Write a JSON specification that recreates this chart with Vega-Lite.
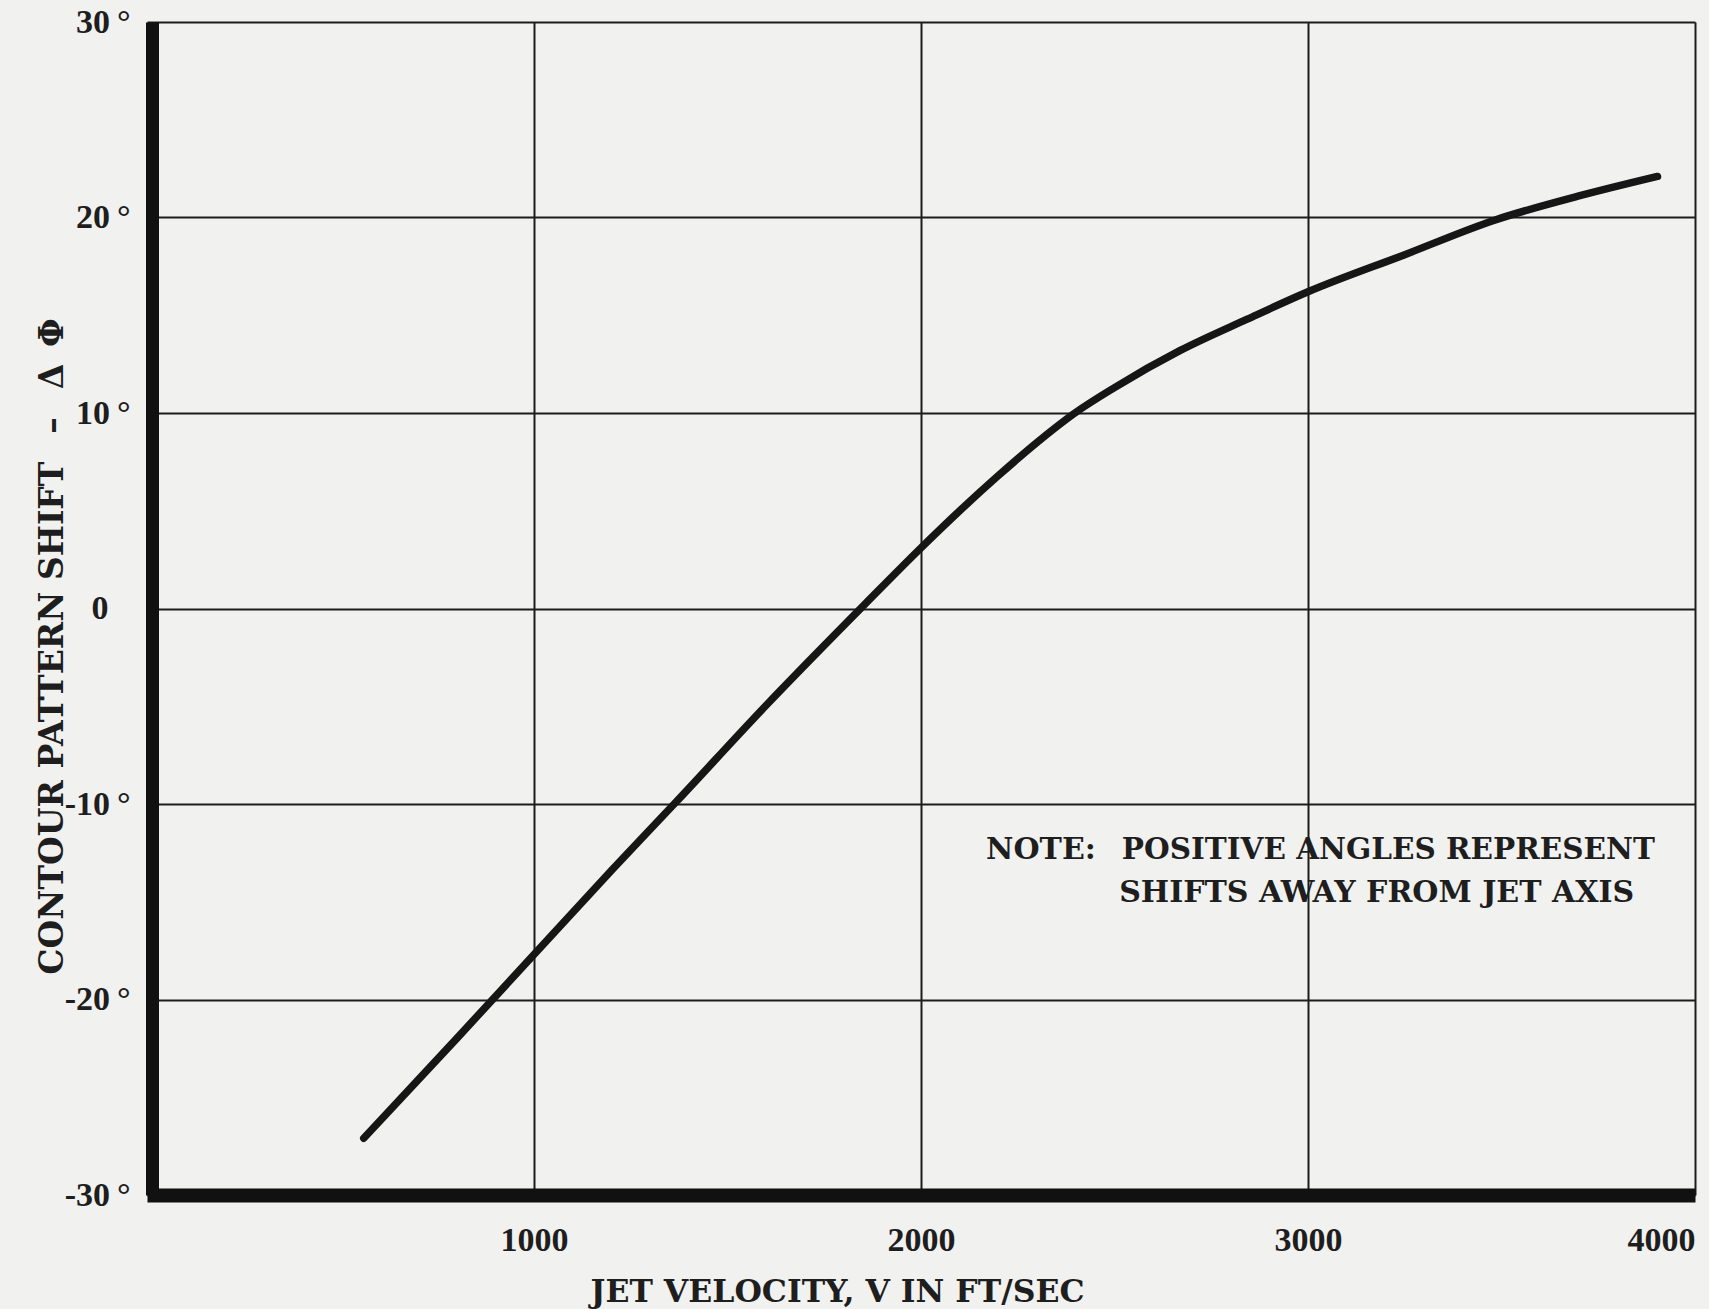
{
  "$schema": "https://vega.github.io/schema/vega-lite/v6.json",
  "width": 1548,
  "height": 1173,
  "autosize": {"type": "none"},
  "padding": {"left": 147, "top": 22, "right": 14, "bottom": 114},
  "background": "#f1f1ef",
  "config": {
    "view": {"stroke": null},
    "font": "DejaVu Serif",
    "text": {"font": "DejaVu Serif", "fontWeight": "bold", "fontSize": 30, "color": "#1e1e1e"}
  },
  "data": {
    "values": [
      {"velocity": 560, "shift": -27.1},
      {"velocity": 800, "shift": -22.0},
      {"velocity": 1000, "shift": -17.7},
      {"velocity": 1200, "shift": -13.4},
      {"velocity": 1367, "shift": -9.9},
      {"velocity": 1600, "shift": -4.95},
      {"velocity": 1859, "shift": 0.3},
      {"velocity": 2000, "shift": 3.1},
      {"velocity": 2100, "shift": 5.0},
      {"velocity": 2200, "shift": 6.8},
      {"velocity": 2300, "shift": 8.5},
      {"velocity": 2394, "shift": 9.95},
      {"velocity": 2500, "shift": 11.3},
      {"velocity": 2670, "shift": 13.2},
      {"velocity": 2843, "shift": 14.8},
      {"velocity": 3000, "shift": 16.2},
      {"velocity": 3250, "shift": 18.1},
      {"velocity": 3480, "shift": 19.85},
      {"velocity": 3700, "shift": 21.1},
      {"velocity": 3903, "shift": 22.1}
    ]
  },
  "layer": [
    {
      "mark": {"type": "line", "interpolate": "monotone", "strokeWidth": 7.5, "color": "#161616", "strokeCap": "round"},
      "encoding": {
        "x": {
          "field": "velocity",
          "type": "quantitative",
          "scale": {"domain": [0, 4000], "nice": false, "zero": false},
          "axis": {
            "values": [1000, 2000, 3000, 4000],
            "format": "d",
            "grid": true,
            "gridColor": "#1c1c1c",
            "gridWidth": 2,
            "ticks": false,
            "tickSize": 0,
            "domain": true,
            "domainColor": "#111111",
            "domainWidth": 14,
            "labelFont": "Liberation Serif",
            "labelFontWeight": "bold",
            "labelFontSize": 34,
            "labelColor": "#1e1e1e",
            "labelBaseline": "middle",
            "labelPadding": 45,
            "labelFlush": true,
            "title": "JET VELOCITY,  V IN FT/SEC",
            "titleFont": "DejaVu Serif",
            "titleFontWeight": "bold",
            "titleFontSize": 31.5,
            "titleColor": "#1e1e1e",
            "titleX": 690,
            "titleY": 97,
            "titleAlign": "center",
            "titleBaseline": "middle"
          }
        },
        "y": {
          "field": "shift",
          "type": "quantitative",
          "scale": {"domain": [-30, 30], "nice": false, "zero": false},
          "axis": {
            "values": [-30, -20, -10, 0, 10, 20, 30],
            "offset": -5,
            "grid": true,
            "gridColor": "#1c1c1c",
            "gridWidth": 2,
            "ticks": false,
            "tickSize": 0,
            "domain": true,
            "domainColor": "#111111",
            "domainWidth": 13,
            "labelExpr": "datum.value == 0 ? '0' : datum.value + '\u2009°'",
            "labelFont": "Liberation Serif",
            "labelFontWeight": "bold",
            "labelFontSize": 34,
            "labelColor": "#1e1e1e",
            "labelBaseline": "middle",
            "labelAlign": "right",
            "labelPadding": {"condition": {"test": "datum.value == 0", "value": 44}, "value": 22},
            "title": "CONTOUR PATTERN SHIFT \u2002–\u2002 Δ\u2002Φ",
            "titleFont": "DejaVu Serif",
            "titleFontWeight": "bold",
            "titleFontSize": 33,
            "titleColor": "#1e1e1e",
            "titleAngle": -90,
            "titleX": -100,
            "titleY": 624,
            "titleAlign": "center",
            "titleBaseline": "middle"
          }
        }
      }
    },
    {
      "data": {"values": [{}]},
      "mark": {"type": "text", "text": "NOTE:", "align": "left", "baseline": "middle"},
      "encoding": {"x": {"datum": 2168}, "y": {"datum": -12.33}}
    },
    {
      "data": {"values": [{}]},
      "mark": {"type": "text", "text": "POSITIVE ANGLES REPRESENT", "align": "left", "baseline": "middle", "fontSize": 29.5},
      "encoding": {"x": {"datum": 2519}, "y": {"datum": -12.33}}
    },
    {
      "data": {"values": [{}]},
      "mark": {"type": "text", "text": "SHIFTS AWAY FROM JET AXIS", "align": "left", "baseline": "middle"},
      "encoding": {"x": {"datum": 2512}, "y": {"datum": -14.56}}
    }
  ]
}
